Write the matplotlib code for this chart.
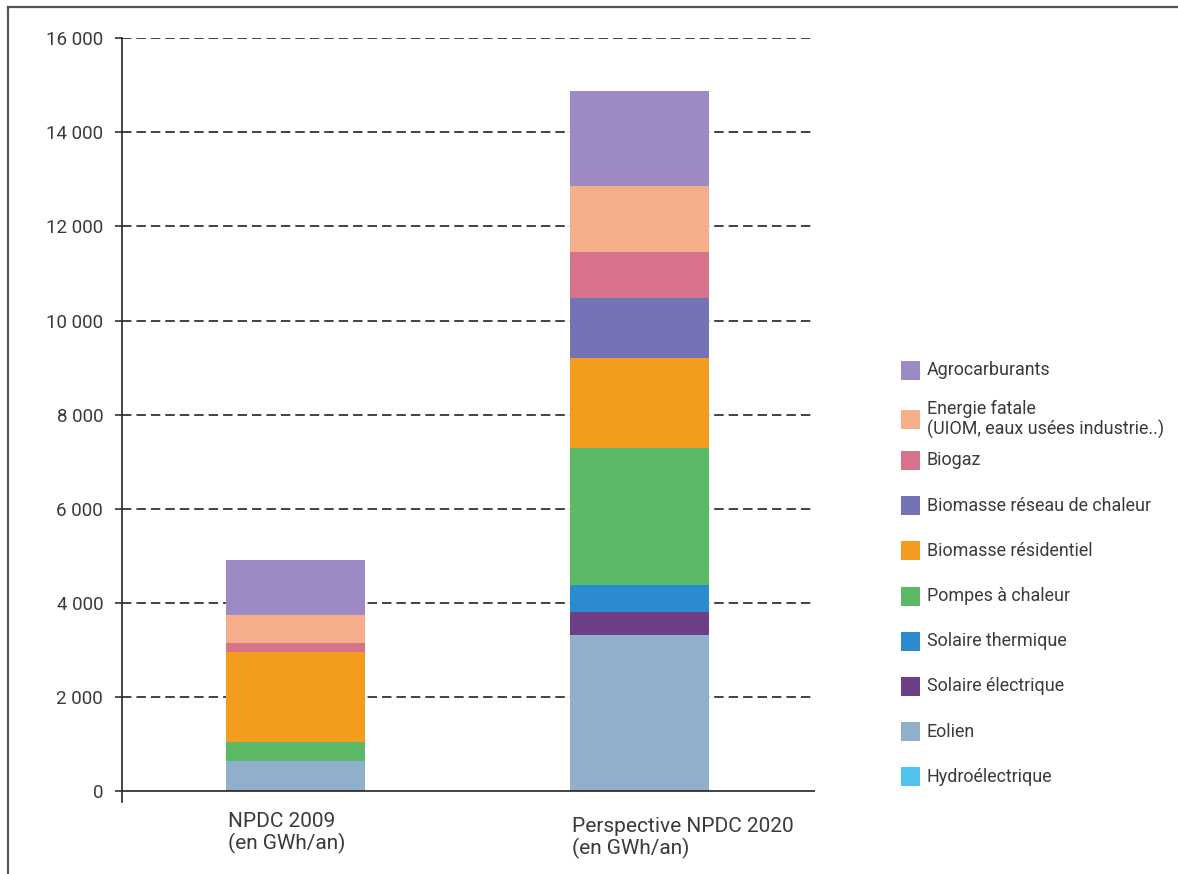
import matplotlib
matplotlib.use("Agg")
import matplotlib.pyplot as plt
from matplotlib.patches import Rectangle
from matplotlib.lines import Line2D
import numpy as np

plt.rcParams["font.family"] = ["Roboto", "DejaVu Sans"]
plt.rcParams["lines.scale_dashes"] = False

# Production d'énergie renouvelable (GWh/an), empilée de bas en haut
categories = ["NPDC 2009\n(en GWh/an)", "Perspective NPDC 2020\n(en GWh/an)"]
series_names = [
    "Hydroélectrique",
    "Eolien",
    "Solaire électrique",
    "Solaire thermique",
    "Pompes à chaleur",
    "Biomasse résidentiel",
    "Biomasse réseau de chaleur",
    "Biogaz",
    "Energie fatale\n(UIOM, eaux usées industrie..)",
    "Agrocarburants",
]
hydroelectrique = [0, 0]
eolien = [650, 3330]
solaire_electrique = [0, 490]
solaire_thermique = [0, 570]
pompes_a_chaleur = [400, 2910]
biomasse_residentiel = [1910, 1910]
biomasse_reseau = [0, 1260]
biogaz = [190, 980]
energie_fatale = [590, 1410]
agrocarburants = [1170, 2010]
y_ticks = [0, 2000, 4000, 6000, 8000, 10000, 12000, 14000, 16000]

series_values = [
    hydroelectrique, eolien, solaire_electrique, solaire_thermique,
    pompes_a_chaleur, biomasse_residentiel, biomasse_reseau, biogaz,
    energie_fatale, agrocarburants,
]
colors = [
    "#4FC3EE", "#8FAFCA", "#6E3E86", "#2A8BD0", "#5CB966",
    "#F39C1E", "#7373B6", "#D6728A", "#F4AE8A", "#9B8AC4",
]

W, H = 1178, 874
fig = plt.figure(figsize=(W / 100, H / 100), dpi=100)
fig.patch.set_facecolor("white")

ax_left, ax_right, ax_top, ax_bottom = 122, 815, 38, 802
ax = fig.add_axes([ax_left / W, 1 - ax_bottom / H,
                   (ax_right - ax_left) / W, (ax_bottom - ax_top) / H])

text_color = "#3a3a3a"
x = np.arange(len(categories))
bar_width = 0.404

# Dashed guide lines behind the bars
for t in y_ticks[1:]:
    ax.axhline(t, color="#222222", lw=1.2, dashes=(6.8, 3.6), zorder=1)

bottom = np.zeros(len(categories))
for name, vals, col in zip(series_names, series_values, colors):
    vals = np.array(vals, dtype=float)
    ax.bar(x, vals, width=bar_width, bottom=bottom, color=col,
           edgecolor="none", zorder=2, label=name)
    bottom += vals

ax.set_xlim(-0.504, 1.510)
ax.set_ylim(-225, 16000)

# Axes lines
for s in ["top", "right", "bottom"]:
    ax.spines[s].set_visible(False)
ax.spines["left"].set_color("#222222")
ax.spines["left"].set_linewidth(1.2)
ax.axhline(0, color="#222222", lw=1.2, zorder=3)

ax.set_yticks(y_ticks)
ax.set_yticklabels([f"{t:,}".replace(",", " ") for t in y_ticks])
ax.tick_params(axis="y", length=5, width=1.1, color="#222222", pad=8.5,
               labelsize=13.5, labelcolor=text_color)
ax.set_xticks([])

# Category labels, left-aligned under each bar
label_offsets = [0, -5]
for xi, cat, off in zip(x, categories, label_offsets):
    ax.annotate(cat, xy=(xi - bar_width / 2, 0), xycoords="data",
                xytext=(2, -21 + off), textcoords="offset pixels",
                ha="left", va="top", fontsize=15, color=text_color,
                linespacing=1.08, annotation_clip=False)

# Legend drawn in figure pixel space, top entry first
legend_top = 370
legend_step = 45.2
sq = 19
sq_x = 901
txt_x = 927
for i, (name, col) in enumerate(zip(series_names[::-1], colors[::-1])):
    yc = legend_top + i * legend_step
    if "\n" in name:
        yc += 4
    fig.patches.append(Rectangle((sq_x / W, 1 - (yc + sq / 2) / H), sq / W, sq / H,
                                 transform=fig.transFigure, facecolor=col,
                                 edgecolor="none"))
    fig.text(txt_x / W, 1 - yc / H, name, ha="left", va="center",
             fontsize=12.9, color=text_color, linespacing=1.15)

# Outer frame: top and left edges
fig.add_artist(Line2D([8 / W, 1], [1 - 7 / H, 1 - 7 / H], transform=fig.transFigure,
                      color="#555555", lw=1.6))
fig.add_artist(Line2D([8 / W, 8 / W], [0, 1 - 7 / H], transform=fig.transFigure,
                      color="#555555", lw=1.6))

fig.savefig("out.png", dpi=100, facecolor="white")
